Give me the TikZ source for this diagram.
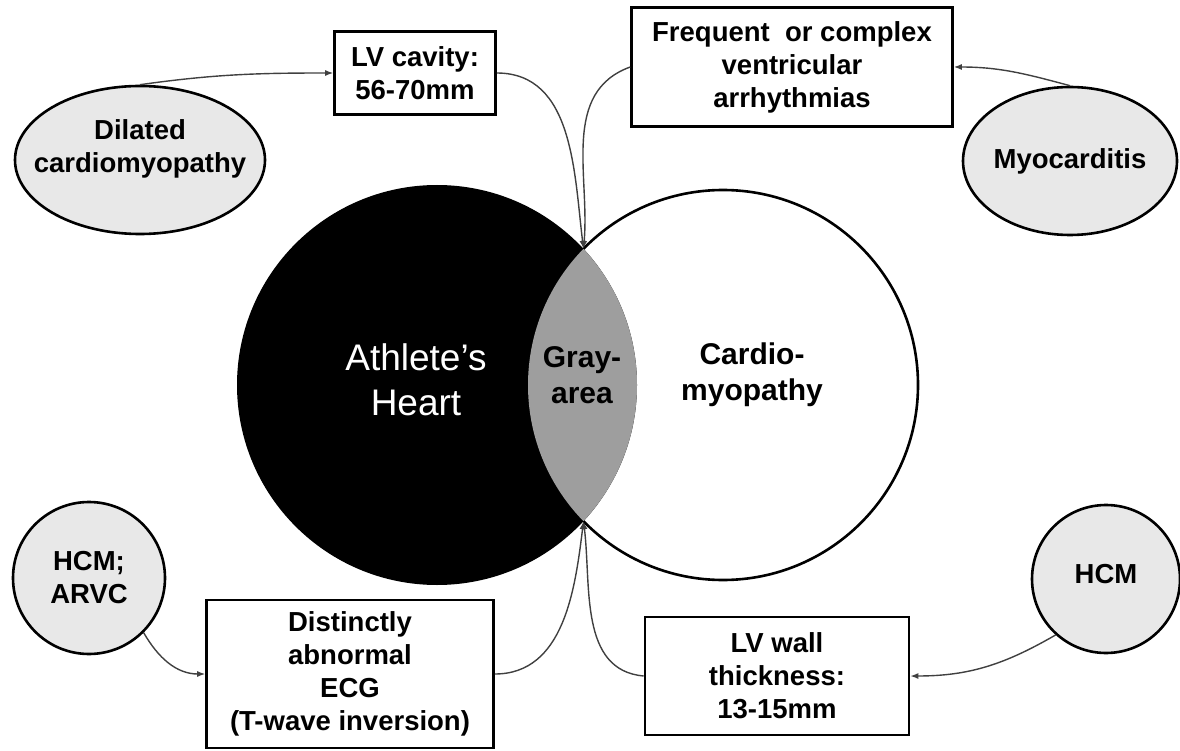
\documentclass[tikz,border=0pt]{standalone}
\usepackage{fontspec}
\setmainfont{Liberation Sans}
\usetikzlibrary{shapes.geometric,arrows.meta}

\tikzset{
	box/.style={draw, line width=2.6pt, align=center, inner sep=0pt, font=\fontsize{27.5}{33}\selectfont\bfseries},
	cause/.style={draw, line width=2.6pt, fill=black!9, inner sep=0pt},
	causetext/.style={align=center, inner sep=0pt, font=\fontsize{27.5}{33}\selectfont\bfseries},
	link/.style={draw=black!75, line width=1.4pt},
	arr/.style={link, -{Latex[length=8pt,width=6pt]}},
	mid/.style={align=center, font=\fontsize{30}{36}\selectfont\bfseries}
}

\begin{document}
\begin{tikzpicture}[x=1pt,y=1pt]
\useasboundingbox (0,0) rectangle (1180,-751);

\draw[line width=2.6pt] (723,-385) circle (195);
\fill[black] (437,-385) circle (200);
\begin{scope}
	\clip (437,-385) circle (200);
	\fill[black!38] (723,-385) circle (195);
\end{scope}
\coordinate (gtop) at (583.5,-248.8);
\coordinate (gbot) at (583.5,-521.2);

\node[text=white, align=center, font=\fontsize{37}{45}\selectfont] (athlete) at (416,-380) {Athlete's\\Heart};
\node[mid] (grayarea) at (582,-375) {Gray-\\area};
\node[mid] (cardio) at (752,-375) {Cardio-\\myopathy};

\node[box, minimum width=161pt, minimum height=83pt] (cavity) at (415,-73) {LV cavity:\\56-70mm};
\node[box, minimum width=321pt, minimum height=119pt] (arrhy) at (792,-67) {Frequent\ \ or complex\\ventricular\\arrhythmias};
\node[box, minimum width=287pt, minimum height=148pt] (ecg) at (350,-674) {Distinctly\\abnormal\\ECG\\(T-wave inversion)};
\node[box, minimum width=264pt, minimum height=118pt] (wall) at (777,-676) {LV wall\\thickness:\\13-15mm};

\node[cause, ellipse, minimum width=250pt, minimum height=148pt, label={[causetext, yshift=11pt]center:{Dilated\\cardiomyopathy}}] (dcm) at (140,-160) {};
\node[cause, ellipse, minimum width=214pt, minimum height=148pt, label={[causetext]center:{Myocarditis}}] (myo) at (1070,-161) {};
\node[cause, circle, minimum size=152pt, label={[causetext]center:{HCM;\\ARVC}}] (hcmarvc) at (89,-578) {};
\node[cause, circle, minimum size=148pt, label={[causetext, yshift=5pt]center:{HCM}}] (hcm) at (1106,-579) {};

\draw[arr] (dcm.north) to[out=8,in=180] (cavity.west);
\draw[arr] (cavity.east) to[out=0,in=97] (gtop);
\draw[arr] (myo.north) to[out=165,in=0] (arrhy.east);
\draw[arr] (arrhy.west) to[out=200,in=85] (gtop);
\draw[arr] (hcmarvc.-45) to[out=-60,in=180] (ecg.west);
\draw[arr] (ecg.east) to[out=0,in=-97] (gbot);
\draw[arr] (hcm.228) to[out=210,in=0] (wall.east);
\draw[arr] (wall.west) to[out=175,in=-83] (gbot);

\end{tikzpicture}
\end{document}
